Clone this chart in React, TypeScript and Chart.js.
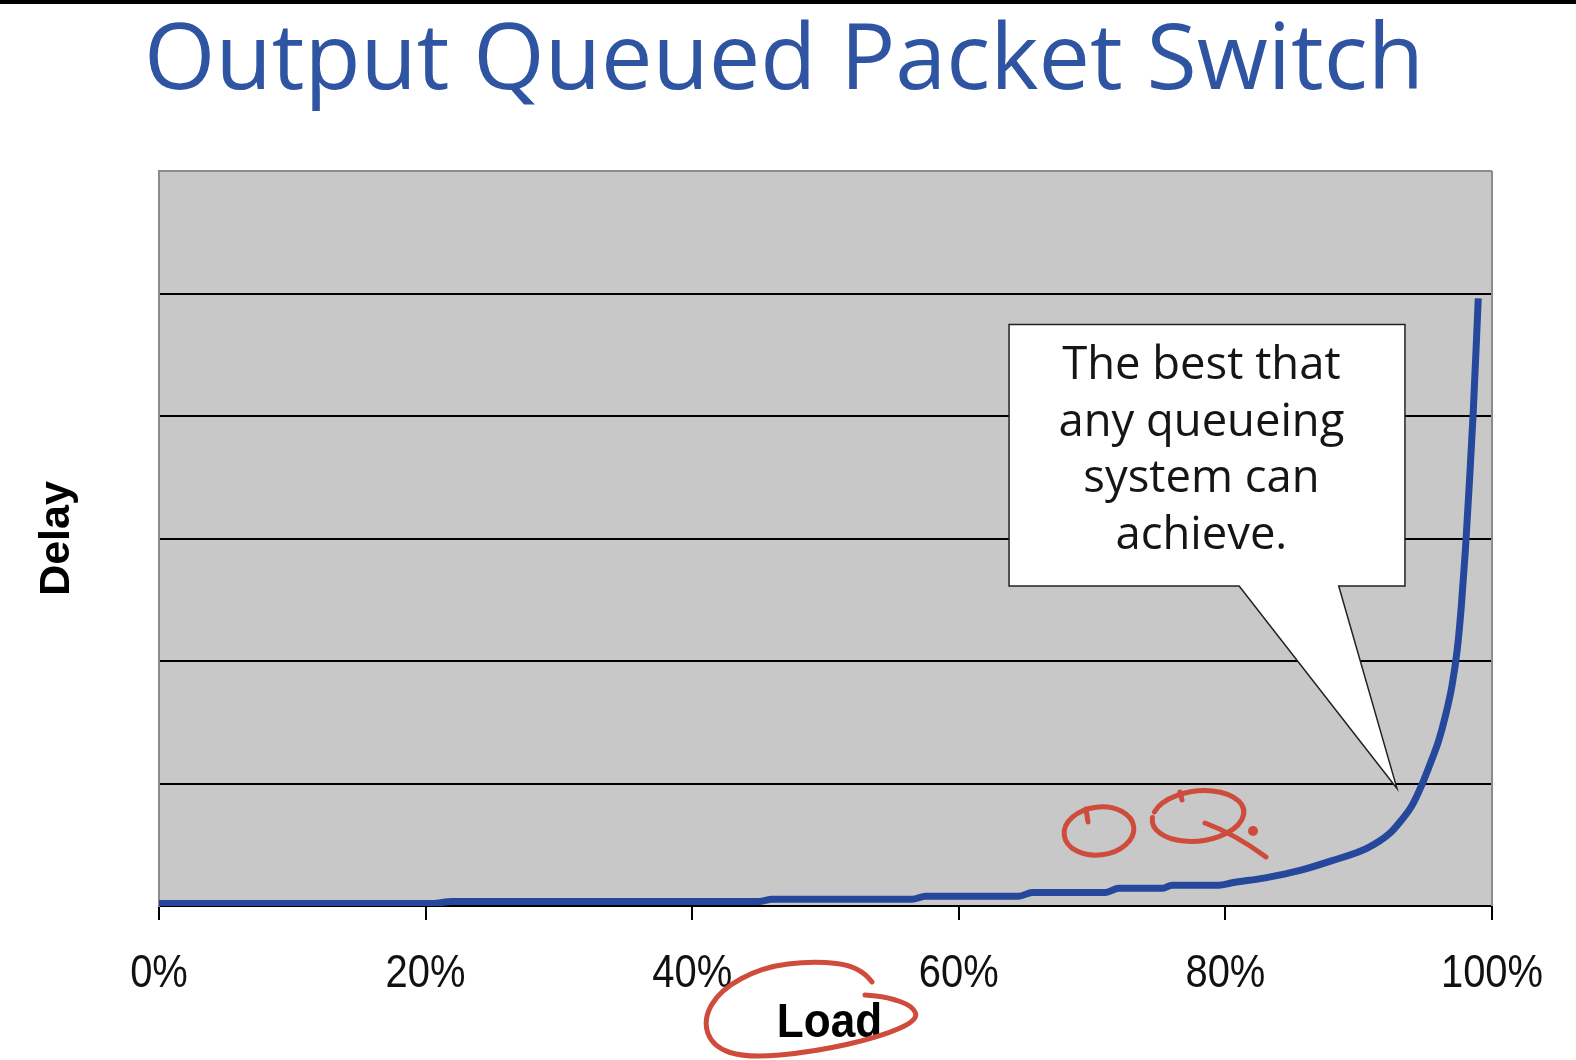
import React, { useEffect, useRef } from 'react';
import { Chart, registerables } from 'chart.js';

Chart.register(...registerables);

// ---------- data ----------
const TITLE = 'Output Queued Packet Switch';
const X_TITLE = 'Load';
const Y_TITLE = 'Delay';

const LOAD = [
  0, 20.5, 22, 45, 46, 56.5, 57.5, 64.5, 65.5, 71, 72, 75.3, 76, 79.5, 80.5, 83,
  85.6, 88, 90.6, 92.3, 93.2, 94, 94.7, 95.5, 96.0, 96.5, 97.0, 97.4, 97.7, 98.0, 98.3,
  98.6, 98.97,
];
const DELAY = [
  0.02, 0.02, 0.037, 0.037, 0.055, 0.055, 0.08, 0.08, 0.11, 0.11, 0.145, 0.145, 0.17, 0.17,
  0.19, 0.23, 0.29, 0.37, 0.47, 0.59, 0.7, 0.82, 0.98, 1.2, 1.35, 1.55, 1.8, 2.1, 2.45, 2.9,
  3.45, 4.05, 4.96,
];

const X_TICKS = [0, 20, 40, 60, 80, 100];
const X_TICK_LABELS = ['0%', '20%', '40%', '60%', '80%', '100%'];
const Y_GRID = [0, 1, 2, 3, 4, 5, 6];

const CALLOUT_LINES = ['The best that', 'any queueing', 'system can', 'achieve.'];
// callout geometry in data units (load %, delay)
const CALLOUT_BOX = { left: 63.77, right: 93.47, top: 4.746, bottom: 2.612 };
const CALLOUT_POINTER = { base1: 81.03, base2: 88.5, tipX: 92.87, tipY: 0.96 };
const CALLOUT_TEXT_X = 78.2;

// ---------- styles ----------
const W = 1576;
const H = 1060;
const SANS = "'Open Sans', 'Noto Sans', sans-serif";
const ARIAL = "'Liberation Sans', Arial, sans-serif";
const TITLE_COLOR = '#2e54a2';
const LINE_COLOR = '#25479c';
const PLOT_BG = '#c8c8c8';
const FRAME = '#8c8c8c';
const RED = '#cf4b3b';

function fitSize(ctx: CanvasRenderingContext2D, text: string, family: string, weight: string, target: number) {
  ctx.font = `${weight} 100px ${family}`;
  const w = ctx.measureText(text).width;
  return (100 * target) / w;
}

function squeezedText(
  ctx: CanvasRenderingContext2D,
  text: string,
  x: number,
  y: number,
  font: string,
  sx: number,
  color: string,
) {
  ctx.save();
  ctx.translate(x, y);
  ctx.scale(sx, 1);
  ctx.font = font;
  ctx.fillStyle = color;
  ctx.textAlign = 'center';
  ctx.textBaseline = 'alphabetic';
  ctx.fillText(text, 0, 0);
  ctx.restore();
}

const decorPlugin = {
  id: 'decor',
  beforeDraw(chart: any) {
    const { ctx, width, height, chartArea: a } = chart;
    ctx.save();
    ctx.fillStyle = '#ffffff';
    ctx.fillRect(0, 0, width, height);
    ctx.fillStyle = '#000000';
    ctx.fillRect(0, 0, width, 4);
    ctx.fillStyle = PLOT_BG;
    ctx.fillRect(a.left, a.top, a.right - a.left, a.bottom - a.top);
    // title
    const size = fitSize(ctx, TITLE, SANS, 'normal', 1280);
    ctx.font = `normal ${size}px ${SANS}`;
    ctx.fillStyle = TITLE_COLOR;
    ctx.textAlign = 'center';
    ctx.textBaseline = 'alphabetic';
    ctx.fillText(TITLE, 784, 89);
    ctx.restore();
  },
  afterDatasetsDraw(chart: any) {
    const { ctx, chartArea: a } = chart;
    const xs = chart.scales.x;
    const ys = chart.scales.y;
    ctx.save();
    // right frame
    ctx.strokeStyle = FRAME;
    ctx.lineWidth = 2;
    ctx.beginPath();
    ctx.moveTo(a.right, a.top);
    ctx.lineTo(a.right, a.bottom);
    ctx.stroke();

    // callout
    const L = xs.getPixelForValue(CALLOUT_BOX.left);
    const R = xs.getPixelForValue(CALLOUT_BOX.right);
    const T = ys.getPixelForValue(CALLOUT_BOX.top);
    const B = ys.getPixelForValue(CALLOUT_BOX.bottom);
    const b1 = xs.getPixelForValue(CALLOUT_POINTER.base1);
    const b2 = xs.getPixelForValue(CALLOUT_POINTER.base2);
    const tx = xs.getPixelForValue(CALLOUT_POINTER.tipX);
    const ty = ys.getPixelForValue(CALLOUT_POINTER.tipY);
    ctx.beginPath();
    ctx.moveTo(L, T);
    ctx.lineTo(R, T);
    ctx.lineTo(R, B);
    ctx.lineTo(b2, B);
    ctx.lineTo(tx, ty);
    ctx.lineTo(b1, B);
    ctx.lineTo(L, B);
    ctx.closePath();
    ctx.fillStyle = '#ffffff';
    ctx.fill();
    ctx.strokeStyle = '#222222';
    ctx.lineWidth = 1.5;
    ctx.lineJoin = 'miter';
    ctx.stroke();

    const fs = fitSize(ctx, CALLOUT_LINES[1], SANS, 'normal', 286);
    ctx.font = `normal ${fs}px ${SANS}`;
    ctx.fillStyle = '#151515';
    ctx.textAlign = 'center';
    ctx.textBaseline = 'alphabetic';
    const cx = xs.getPixelForValue(CALLOUT_TEXT_X);
    CALLOUT_LINES.forEach((line, i) => {
      ctx.fillText(line, cx, T + 54.5 + i * 56.5);
    });
    ctx.restore();
  },
  afterDraw(chart: any) {
    const { ctx, chartArea: a } = chart;
    const xs = chart.scales.x;

    // x tick labels (slightly condensed, as in the original)
    X_TICKS.forEach((v, i) => {
      squeezedText(ctx, X_TICK_LABELS[i], xs.getPixelForValue(v), a.bottom + 81, `normal 47px ${ARIAL}`, 0.85, '#111111');
    });
    // x axis title
    squeezedText(ctx, X_TITLE, (a.left + a.right) / 2 + 4, a.bottom + 131, `bold 49px ${ARIAL}`, 0.9, '#000000');

    ctx.save();
    ctx.strokeStyle = RED;
    ctx.fillStyle = RED;
    ctx.lineWidth = 5;
    ctx.lineCap = 'round';
    ctx.lineJoin = 'round';
    // "O"
    ctx.beginPath();
    ctx.ellipse(1099, 831, 35, 24, -0.12, 0, Math.PI * 2);
    ctx.stroke();
    ctx.beginPath();
    ctx.moveTo(1086, 809);
    ctx.lineTo(1088, 822);
    ctx.stroke();
    // "Q"
    ctx.beginPath();
    ctx.ellipse(1198, 816, 46, 25, -0.12, Math.PI * 1.12, Math.PI * 3.05);
    ctx.stroke();
    ctx.beginPath();
    ctx.moveTo(1180, 792);
    ctx.lineTo(1182, 800);
    ctx.stroke();
    ctx.beginPath();
    ctx.moveTo(1205, 823);
    ctx.quadraticCurveTo(1235, 834, 1266, 857);
    ctx.stroke();
    ctx.beginPath();
    ctx.arc(1253, 831, 5, 0, Math.PI * 2);
    ctx.fill();
    // loop around "Load"
    const pts = [
      [872, 982], [860, 966], [813, 961], [763, 967], [720, 990], [703, 1020], [713, 1047],
      [747, 1058], [813, 1052], [880, 1037], [918, 1020], [913, 1006], [887, 997], [865, 995],
    ];
    ctx.beginPath();
    ctx.moveTo(pts[0][0], pts[0][1]);
    for (let i = 1; i < pts.length - 1; i++) {
      const mx = (pts[i][0] + pts[i + 1][0]) / 2;
      const my = (pts[i][1] + pts[i + 1][1]) / 2;
      ctx.quadraticCurveTo(pts[i][0], pts[i][1], mx, my);
    }
    const last = pts[pts.length - 1];
    ctx.lineTo(last[0], last[1]);
    ctx.stroke();
    ctx.restore();
  },
};

export default function App() {
  const canvasRef = useRef<HTMLCanvasElement | null>(null);

  useEffect(() => {
    if (!canvasRef.current) return;
    const points = LOAD.map((x, i) => ({ x, y: DELAY[i] }));
    const chart = new Chart(canvasRef.current, {
      type: 'line',
      data: {
        datasets: [
          {
            data: points,
            borderColor: LINE_COLOR,
            borderWidth: 7,
            pointRadius: 0,
            fill: false,
            cubicInterpolationMode: 'monotone',
            borderCapStyle: 'butt',
            borderJoinStyle: 'round',
          } as any,
        ],
      },
      options: {
        animation: false,
        responsive: true,
        maintainAspectRatio: false,
        layout: { padding: { left: 0, top: 171, right: 84, bottom: 0 } },
        plugins: {
          legend: { display: false },
          tooltip: { enabled: false },
          title: { display: false },
        },
        scales: {
          x: {
            type: 'linear',
            position: 'bottom',
            min: 0,
            max: 100,
            afterBuildTicks: (s: any) => {
              s.ticks = X_TICKS.map((v) => ({ value: v }));
            },
            afterFit: (s: any) => {
              s.height = 154;
            },
            ticks: { display: false },
            grid: {
              drawOnChartArea: false,
              drawTicks: true,
              tickLength: 14,
              color: '#000000',
              lineWidth: 2,
            },
            border: { display: true, color: '#000000', width: 2 },
            title: { display: false },
          },
          y: {
            type: 'linear',
            min: 0,
            max: 6,
            afterBuildTicks: (s: any) => {
              s.ticks = Y_GRID.map((v) => ({ value: v }));
            },
            afterFit: (s: any) => {
              s.width = 159;
            },
            ticks: { display: false },
            grid: {
              drawTicks: false,
              lineWidth: 2,
              color: (c: any) => (c.tick && c.tick.value === 6 ? FRAME : '#000000'),
            },
            border: { display: true, color: FRAME, width: 2 },
            title: {
              display: true,
              text: Y_TITLE,
              color: '#000000',
              font: { family: ARIAL, size: 43, weight: 'bold', lineHeight: 1 },
              padding: { top: 36, bottom: 0 },
            },
          },
        },
      } as any,
      plugins: [decorPlugin],
    });
    return () => chart.destroy();
  }, []);

  return (
    <div style={{ position: 'absolute', left: 0, top: 0, width: W, height: H, background: '#fff' }}>
      <canvas ref={canvasRef} />
    </div>
  );
}
